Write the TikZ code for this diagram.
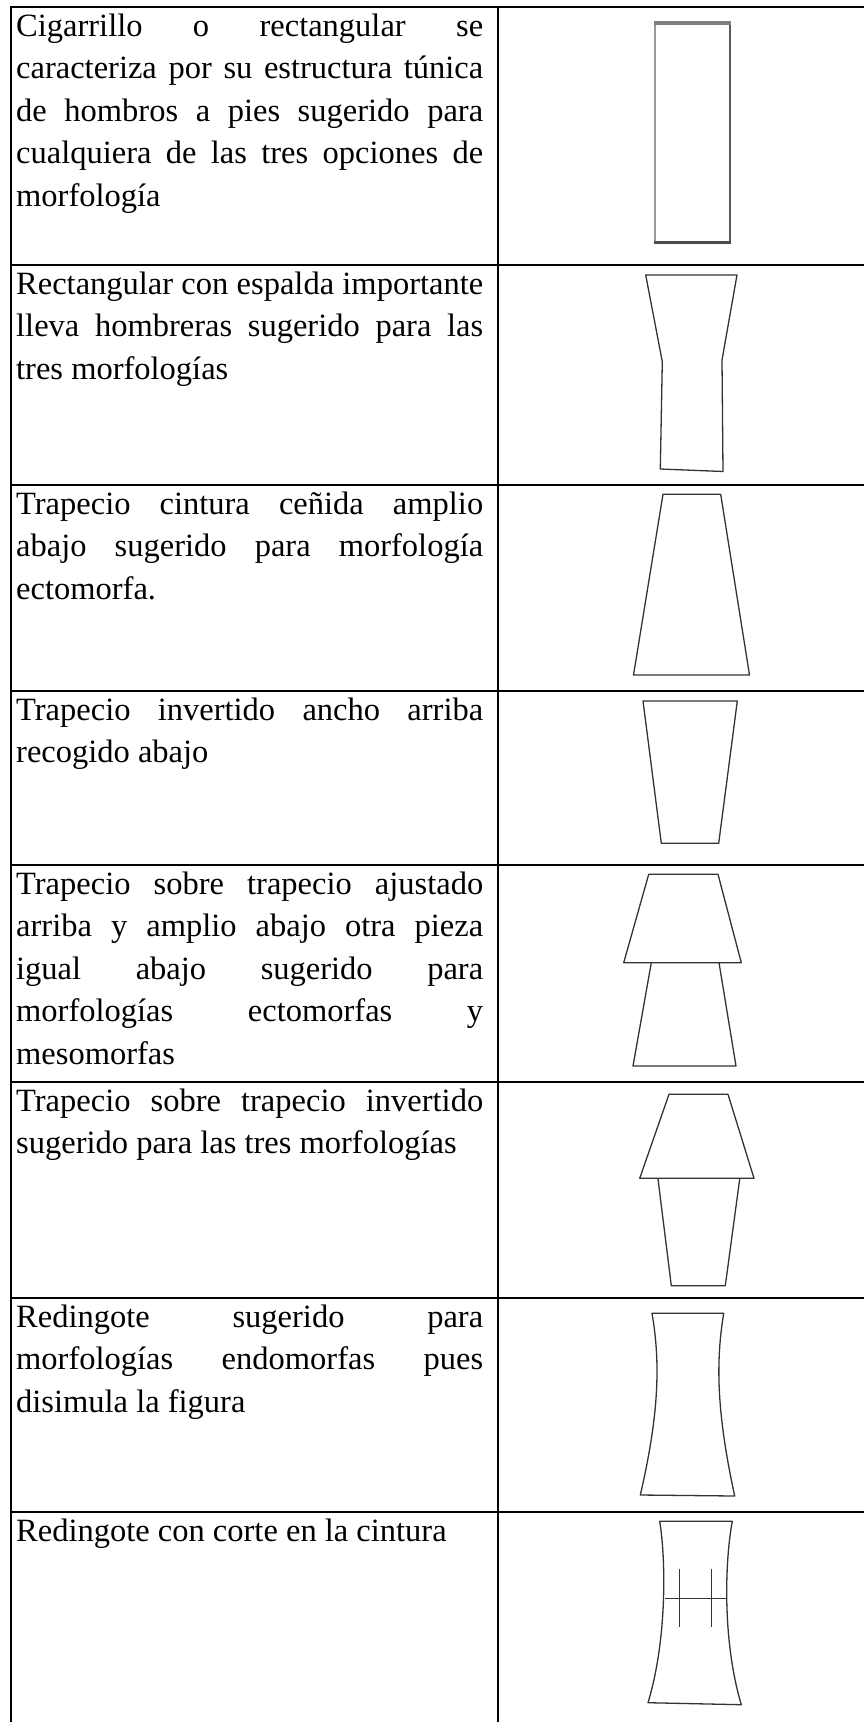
\documentclass[tikz,border=0pt]{standalone}
\usepackage{fontspec}
\setmainfont{Liberation Serif}
\usepackage{tikz}
\newlength\colw
\setlength\colw{467pt}
\newcommand\jl[1]{\makebox[\colw][s]{\spaceskip=0pt #1}}
\newcommand\fstrut{\rule{0pt}{28pt}}

\begin{document}
\begin{tikzpicture}[x=1pt,y=-1pt,
  cell/.style={anchor=north west,inner sep=0pt,text width=\colw,align=justify,
    font=\fontsize{32.5}{42.5}\selectfont},
  rule/.style={line width=2.2pt},
  sketch/.style={line width=1.3pt,draw=black!80,line join=round}]

  \useasboundingbox (0,0) rectangle (863,1722);

  % Table
  \foreach \y in {7,265,485,691,865,1082,1298,1512}
    \draw [rule] (10,\y) -- (870,\y);
  \draw [rule] (11,5.9) -- (11,1730);
  \draw [rule] (498,5.9) -- (498,1730);

  % Descriptions
  \node[cell] (T1) at (16,8) {\noindent\fstrut\jl{Cigarrillo o rectangular se}\\
    \jl{caracteriza por su estructura túnica}\\
    \jl{de hombros a pies sugerido para}\\
    \jl{cualquiera de las tres opciones de}\\
    morfología};
  \node[cell] (T2) at (16,266) {\noindent\fstrut\jl{Rectangular con espalda importante}\\
    \jl{lleva hombreras sugerido para las}\\
    tres morfologías};
  \node[cell] (T3) at (16,486) {\noindent\fstrut\jl{Trapecio cintura ceñida amplio}\\
    \jl{abajo sugerido para morfología}\\
    ectomorfa.};
  \node[cell] (T4) at (16,692) {\noindent\fstrut\jl{Trapecio invertido ancho arriba}\\
    recogido abajo};
  \node[cell] (T5) at (16,866) {\noindent\fstrut\jl{Trapecio sobre trapecio ajustado}\\
    \jl{arriba y amplio abajo otra pieza}\\
    \jl{igual abajo sugerido para}\\
    \jl{morfologías ectomorfas y}\\
    mesomorfas};
  \node[cell] (T6) at (16,1083) {\noindent\fstrut\jl{Trapecio sobre trapecio invertido}\\
    sugerido para las tres morfologías};
  \node[cell] (T7) at (16,1299) {\noindent\fstrut\jl{Redingote sugerido para}\\
    \jl{morfologías endomorfas pues}\\
    disimula la figura};
  \node[cell] (T8) at (16,1513) {\noindent\fstrut Redingote con corte en la cintura};

  % Silhouettes
  \draw [draw=black!40,line width=1.2pt] (655,22) -- (655,243);
  \draw [draw=black!65,line width=2pt] (730,22) -- (730,243);
  \draw [draw=black!50,line width=3.5pt] (654,23) -- (731,23);
  \draw [draw=black!70,line width=3pt] (654,242) -- (731,242);

  \draw [sketch] (645.7,275) -- (737,275) -- (722,360) -- (723,471.5)
    -- (660.3,469) -- (662.3,361.7) -- cycle;

  \draw [sketch] (663,494.3) -- (720.7,494.3) -- (749.5,675) -- (633.5,675) -- cycle;

  \draw [sketch] (643,701) -- (737.3,701) -- (718.7,843.3) -- (661.3,843.3) -- cycle;

  \draw [sketch] (648.7,874.3) -- (718,874.3) -- (741.3,962.7) -- (623.7,962.7) -- cycle;
  \draw [sketch] (651.3,962.7) -- (633,1066) -- (736,1066) -- (719,962.7);

  \draw [sketch] (669,1094.3) -- (728,1094.3) -- (754,1178.3) -- (639.7,1178.3) -- cycle;
  \draw [sketch] (658,1179) -- (671.3,1285.7) -- (725.3,1285.7) -- (739.7,1179);

  \draw [sketch] (652,1313.3) -- (723.7,1313.3)
    .. controls (716,1360) and (716,1410) .. (734.7,1496)
    -- (640.3,1495)
    .. controls (660,1410) and (660,1360) .. (652,1313.3) -- cycle;

  \draw [sketch] (659.7,1521.3) -- (732.3,1521.3)
    .. controls (725,1560) and (722,1640) .. (741.3,1704.7)
    -- (648,1702.7)
    .. controls (667,1640) and (666,1560) .. (659.7,1521.3) -- cycle;
  \draw [sketch] (664.7,1598.7) -- (726.3,1598.7);
  \draw [sketch] (679.7,1568.7) -- (679.7,1627);
  \draw [sketch] (711.3,1568.7) -- (711.3,1627);

\end{tikzpicture}
\end{document}
